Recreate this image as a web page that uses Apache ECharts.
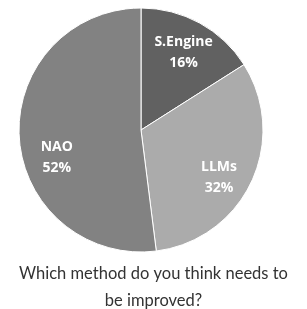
<!DOCTYPE html>
<html><head><meta charset="utf-8">
<script src="https://cdn.jsdelivr.net/npm/echarts@6/dist/echarts.min.js"></script>
<style>html,body{margin:0;padding:0;background:#fff}#c{width:307px;height:309px}</style>
</head><body><div id="c"></div>
<script>
const categories = ['S.Engine', 'LLMs', 'NAO'];
const values = [16, 32, 52];
const colors = ['#616161', '#ababab', '#828282'];
const titleLines = ['Which method do you think needs to', 'be improved?'];

const chart = echarts.init(document.getElementById('c'));
const center = [141, 130];
const R = 122;
const pieData = categories.map((n, i) => ({ name: n, value: values[i], itemStyle: { color: colors[i] } }));
const labelData = categories.map((n, i) => ({
  name: n, value: values[i],
  label: n === 'NAO' ? { offset: [4, 22] } : (n === 'LLMs' ? { offset: [-2, 10] } : {})
}));
chart.setOption({
  animation: false,
  title: {
    text: titleLines.join('\n'),
    left: 'center', top: 255,
    textStyle: { fontFamily: 'Lato', fontSize: 16.5, fontWeight: 'normal', color: '#333', lineHeight: 27 }
  },
  series: [
    {
      type: 'pie', center: center, radius: [0, R], startAngle: 90, clockwise: true,
      silent: true, label: { show: false }, labelLine: { show: false },
      itemStyle: { borderColor: '#ffffff', borderWidth: 1 },
      data: pieData
    },
    {
      type: 'pie', center: center, radius: [R * 0.4, R], startAngle: 90, clockwise: true,
      silent: true, itemStyle: { color: 'rgba(0,0,0,0)' },
      label: {
        show: true, position: 'inside', formatter: p => p.name + '\n' + Math.round(p.percent) + '%',
        color: '#ffffff', fontFamily: 'Open Sans', fontWeight: 'bold', fontSize: 14, lineHeight: 21
      },
      labelLine: { show: false },
      data: labelData
    }
  ]
});
</script></body></html>
